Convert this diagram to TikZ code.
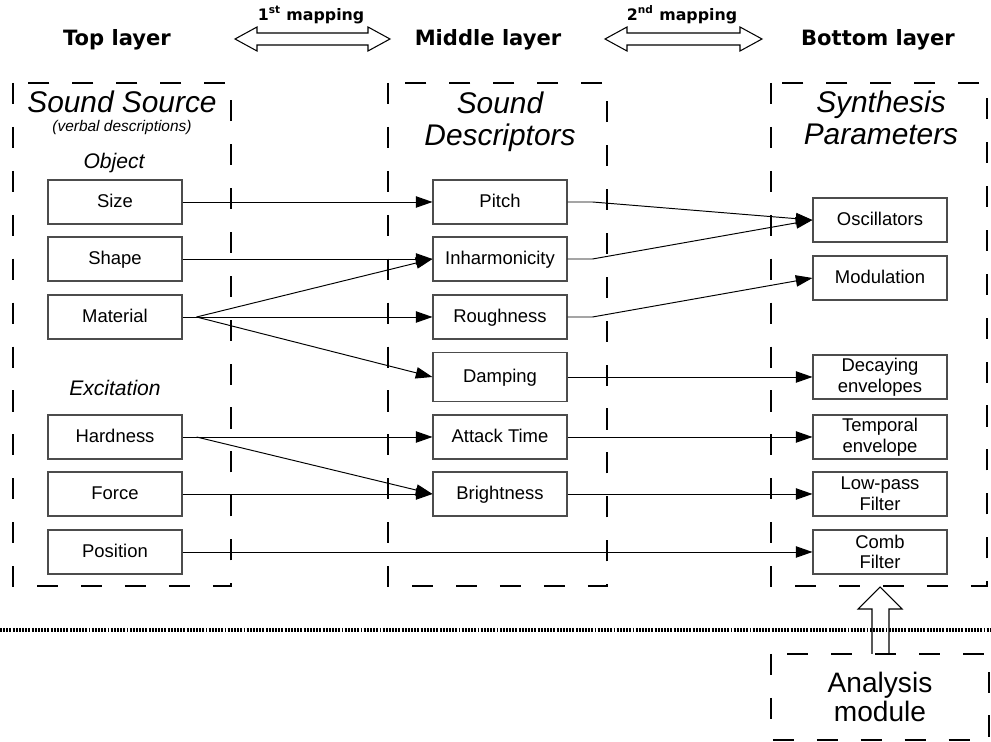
\documentclass[tikz,border=0pt]{standalone}
\usepackage{fontspec}
\setmainfont{Liberation Sans}
\newfontfamily\verdana{DejaVu Sans}
\usetikzlibrary{arrows.meta,calc}

\tikzset{item/.style={draw=black!70,line width=0.6pt,minimum width=2.68cm,minimum height=0.88cm,inner sep=1pt,align=center,text height=1.6ex,text depth=0.45ex,font=\fontsize{10.5}{12}\selectfont}}
\tikzset{twoline/.style={font=\fontsize{10.5}{11.8}\selectfont,text height=,text depth=}}
\tikzset{layerbox/.style={line width=1.5pt,dash pattern=on 12pt off 13pt}}
\tikzset{link/.style={-{Triangle[length=9.5pt,width=6.5pt]},line width=0.55pt}}
\tikzset{heading/.style={font=\verdana\bfseries\fontsize{12}{14}\selectfont}}
\tikzset{maplabel/.style={font=\verdana\bfseries\fontsize{9}{11}\selectfont}}
\tikzset{title/.style={font=\itshape\fontsize{17}{18}\selectfont,align=center}}
\tikzset{group/.style={font=\itshape\fontsize{12}{14}\selectfont}}
\tikzset{hollow/.style={draw,line width=0.6pt}}

\begin{document}
\begin{tikzpicture}[x=0.02cm,y=-0.02cm]
  \useasboundingbox (0,0) rectangle (991,742);

  % layer headings and mappings
  \node[heading] (toph) at (117,40) {Top layer};
  \node[heading] (midh) at (488,40) {Middle layer};
  \node[heading] (both) at (878,40) {Bottom layer};
  \node[maplabel] (map1) at (311,15) {1\textsuperscript{st} mapping};
  \node[maplabel] (map2) at (682,15) {2\textsuperscript{nd} mapping};
  \draw[hollow] (235,39) -- (257,27) -- (257,33) -- (368,33) -- (368,27) -- (390,39)
        -- (368,51) -- (368,45) -- (257,45) -- (257,51) -- cycle;
  \draw[hollow] (605,39) -- (627,27) -- (627,33) -- (740,33) -- (740,27) -- (762,39)
        -- (740,51) -- (740,45) -- (627,45) -- (627,51) -- cycle;

  % dashed layers
  \draw[layerbox] (13,83) rectangle (231,586);
  \draw[layerbox] (388,83) rectangle (607,586);
  \draw[layerbox] (771,83) rectangle (987,586);
  \draw[layerbox] (771,654) rectangle (989,740);

  \node[title] (srct) at (122,102) {Sound Source};
  \node[font=\itshape\fontsize{8.8}{10}\selectfont] (srcsub) at (122,128) {(verbal descriptions)};
  \node[group] (objt) at (114,163) {Object};
  \node[group] (exct) at (115,388) {Excitation};
  \node[title] (desct) at (500,122) {Sound\\Descriptors};
  \node[title] (synt) at (881,118) {Synthesis\\Parameters};
  \node[font=\fontsize{16}{16.5}\selectfont,align=center] (anat) at (880,697) {Analysis\\module};

  % top layer
  \node[item] (size) at (115,202) {Size};
  \node[item] (shape) at (115,259) {Shape};
  \node[item] (material) at (115,317) {Material};
  \node[item] (hardness) at (115,437) {Hardness};
  \node[item] (force) at (115,494) {Force};
  \node[item] (position) at (115,552) {Position};

  % middle layer
  \node[item] (pitch) at (500,202) {Pitch};
  \node[item] (inharm) at (500,259) {Inharmonicity};
  \node[item] (rough) at (500,317) {Roughness};
  \node[item,minimum height=0.98cm] (damping) at (500,377) {Damping};
  \node[item] (attack) at (500,437) {Attack Time};
  \node[item] (bright) at (500,494) {Brightness};

  % bottom layer
  \node[item] (osc) at (880,220) {Oscillators};
  \node[item] (modul) at (880,278) {Modulation};
  \node[item,twoline] (decay) at (880,377) {Decaying\\envelopes};
  \node[item,twoline] (tempo) at (880,437) {Temporal\\envelope};
  \node[item,twoline] (lowpass) at (880,494) {Low-pass\\Filter};
  \node[item,twoline] (comb) at (880,552) {Comb\\Filter};

  % 1st mapping
  \coordinate (matj) at ($(material.east)+(14,0)$);
  \coordinate (hardj) at ($(hardness.east)+(14,0)$);
  \draw[link] (size) -- (pitch);
  \draw[link] (shape) -- (inharm);
  \draw[line width=0.55pt] (material) -- (matj);
  \draw[link] (matj) -- (inharm.west);
  \draw[link] (matj) -- (rough);
  \draw[link] (matj) -- (damping.west);
  \draw[link] (hardness) -- (attack);
  \draw[link] (hardj) -- (bright.west);
  \draw[link] (force) -- (bright);
  \draw[link] (position) -- (comb);

  % 2nd mapping
  \coordinate (pitchj) at ($(pitch.east)+(25,0)$);
  \coordinate (inharmj) at ($(inharm.east)+(25,0)$);
  \coordinate (roughj) at ($(rough.east)+(25,0)$);
  \draw[link] (pitch.east) -- (pitchj) -- (osc.west);
  \draw[link] (inharm.east) -- (inharmj) -- (osc.west);
  \draw[link] (rough.east) -- (roughj) -- (modul.west);
  \draw[link] (damping) -- (decay);
  \draw[link] (attack) -- (tempo);
  \draw[link] (bright) -- (lowpass);

  % analysis
  \draw[line width=1.8pt,dash pattern=on 1.1pt off 0.7pt] (0,630) -- (991,630);
  \draw[hollow] (872,654) -- (872,609) -- (858,609) -- (880,587) -- (902,609) -- (889,609) -- (889,654);
\end{tikzpicture}
\end{document}
